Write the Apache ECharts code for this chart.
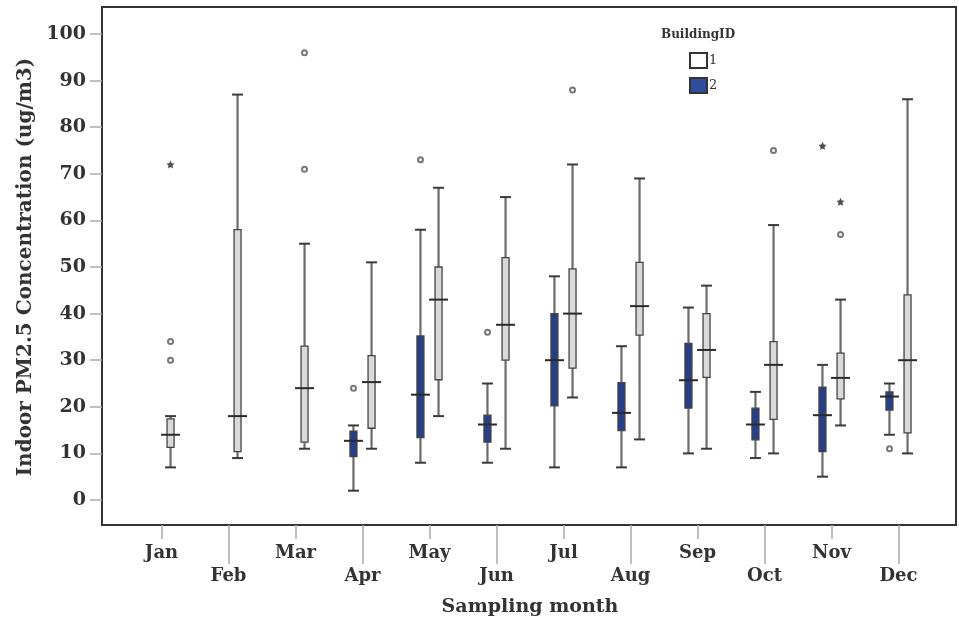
<!DOCTYPE html>
<html>
<head>
<meta charset="utf-8">
<script src="https://cdn.jsdelivr.net/npm/echarts@6/dist/echarts.min.js"></script>
<style>
html,body{margin:0;padding:0;background:#fff;}
#chart{width:959px;height:622px;}
</style>
</head>
<body>
<div id="chart"></div>
<script>
const months = ['Jan','Feb','Mar','Apr','May','Jun','Jul','Aug','Sep','Oct','Nov','Dec'];
// [min, q1, median, q3, max]
const building1 = [
  [7, 11.3, 14, 17.4, 18],
  [9, 10.4, 18, 58, 87],
  [11, 12.4, 24, 33, 55],
  [11, 15.4, 25.3, 31, 51],
  [18, 25.8, 43, 50, 67],
  [11, 30, 37.6, 52, 65],
  [22, 28.3, 40, 49.6, 72],
  [13, 35.4, 41.6, 51, 69],
  [11, 26.3, 32.2, 40, 46],
  [10, 17.3, 29, 34, 59],
  [16, 21.7, 26.2, 31.5, 43],
  [10, 14.4, 30, 44, 86]
];
const building2 = [
  null, null, null,
  [2, 9.3, 12.7, 14.8, 16],
  [8, 13.4, 22.6, 35.2, 58],
  [8, 12.4, 16.2, 18.2, 25],
  [7, 20.2, 30, 40, 48],
  [7, 14.9, 18.7, 25.2, 33],
  [10, 19.7, 25.7, 33.6, 41.3],
  [9, 12.9, 16.2, 19.7, 23.2],
  [5, 10.4, 18.2, 24.2, 29],
  [14, 19.3, 22.2, 23.2, 25]
];
const outliers1 = [['Jan',34],['Jan',30],['Mar',96],['Mar',71],['Jul',88],['Oct',75],['Nov',57]];
const extremes1 = [['Jan',72],['Nov',64]];
const outliers2 = [['Apr',24],['May',73],['Jun',36],['Dec',11]];
const extremes2 = [['Nov',76]];
const seriesNames = ['1','2'];
const legendTitle = 'BuildingID';
const yName = 'Indoor PM2.5 Concentration (ug/m3)';
const xName = 'Sampling month';

const FONT = 'DejaVu Serif';
const OFF = 0.135;
const starPath = 'path://M0,-10 L2.9,-4 9.5,-3.1 4.7,1.5 5.9,8.1 0,5 -5.9,8.1 -4.7,1.5 -9.5,-3.1 -2.9,-4 Z';

function boxData(arr){
  const out = [];
  arr.forEach((v,i)=>{ if(v) out.push([i].concat(v)); });
  return out;
}
function ptData(arr){
  return arr.map(d=>[months.indexOf(d[0]), d[1]]);
}
function makeRender(sign, fill){
  return function(params, api){
    const x = api.value(0);
    const band = api.size([1,0])[0];
    const off = sign*band*OFF;
    const pMin = api.coord([x, api.value(1)]);
    const pQ1 = api.coord([x, api.value(2)]);
    const pMed = api.coord([x, api.value(3)]);
    const pQ3 = api.coord([x, api.value(4)]);
    const pMax = api.coord([x, api.value(5)]);
    const cx = pMin[0] + off;
    const bw = 7, cap = 5.5, med = 9.5;
    const wStyle = {stroke:'#6b6b6b', lineWidth:2.2};
    const cStyle = {stroke:'#3a3a3a', lineWidth:2};
    return {type:'group', children:[
      {type:'line', shape:{x1:cx,y1:pMax[1],x2:cx,y2:pQ3[1]}, style:wStyle},
      {type:'line', shape:{x1:cx,y1:pQ1[1],x2:cx,y2:pMin[1]}, style:wStyle},
      {type:'line', shape:{x1:cx-cap,y1:pMax[1],x2:cx+cap,y2:pMax[1]}, style:cStyle},
      {type:'line', shape:{x1:cx-cap,y1:pMin[1],x2:cx+cap,y2:pMin[1]}, style:cStyle},
      {type:'rect', shape:{x:cx-bw/2,y:pQ3[1],width:bw,height:pQ1[1]-pQ3[1]}, style:{fill:fill, stroke:'#444', lineWidth:1.3}},
      {type:'line', shape:{x1:cx-med,y1:pMed[1],x2:cx+med,y2:pMed[1]}, style:{stroke:'#2a2a2a', lineWidth:2}}
    ]};
  };
}

const chart = echarts.init(document.getElementById('chart'));
const labelStyle = {fontFamily:FONT, fontWeight:'bold', fontSize:18, color:'#333'};
chart.setOption({
  animation:false,
  title:{text:legendTitle, left:656, top:24, textStyle:{fontFamily:FONT, fontWeight:'bold', fontSize:12, color:'#333'}},
  legend:{
    data:seriesNames, orient:'vertical', left:684, top:47, itemWidth:17, itemHeight:15, itemGap:8,
    icon:'rect',
    textStyle:{fontFamily:FONT, fontSize:13, color:'#333', padding:[0,0,0,-3]}
  },
  grid:[
    {left:102, top:7, right:3, bottom:97, show:true, borderColor:'#333', borderWidth:2, backgroundColor:'transparent', containLabel:false, outerBoundsMode:'none'},
    {left:128, top:34, right:27, bottom:122, containLabel:false, outerBoundsMode:'none'}
  ],
  xAxis:[
    {gridIndex:0, type:'value', show:false},
    {gridIndex:1, type:'category', data:months, offset:25, position:'bottom',
      axisLine:{show:false},
      axisTick:{show:false},
      axisLabel:Object.assign({interval:(i)=>i%2===0, margin:19}, labelStyle),
      name:xName, nameLocation:'middle', nameGap:73,
      nameTextStyle:{fontFamily:FONT, fontWeight:'bold', fontSize:19, color:'#333'}
    },
    {gridIndex:1, type:'category', data:months, offset:25, position:'bottom',
      axisLine:{show:false},
      axisTick:{show:true, alignWithLabel:true, length:39, interval:(i)=>i%2===1, lineStyle:{color:'#aaa', width:1.5}},
      axisLabel:Object.assign({interval:(i)=>i%2===1, margin:42}, labelStyle)
    },
    {gridIndex:1, type:'category', data:months, offset:25, position:'bottom',
      axisLine:{show:false},
      axisTick:{show:true, alignWithLabel:true, length:14, interval:(i)=>i%2===0, lineStyle:{color:'#aaa', width:1.5}},
      axisLabel:{show:false}
    }
  ],
  yAxis:[
    {gridIndex:0, type:'value', show:false},
    {gridIndex:1, type:'value', min:0, max:100, interval:10, offset:26, position:'left',
      axisLine:{show:false},
      axisTick:{show:true, length:12, lineStyle:{color:'#aaa', width:1.5}},
      axisLabel:Object.assign({margin:16}, labelStyle, {fontSize:19}),
      splitLine:{show:false},
      name:yName, nameLocation:'middle', nameGap:58,
      nameTextStyle:{fontFamily:FONT, fontWeight:'bold', fontSize:20, color:'#333'}
    }
  ],
  series:[
    {name:seriesNames[0], type:'custom', xAxisIndex:1, yAxisIndex:1,
      itemStyle:{color:'#ffffff', borderColor:'#333', borderWidth:1.2},
      renderItem:makeRender(1,'#d9d9d9'), data:boxData(building1), encode:{x:0, y:[1,2,3,4,5]}, z:3},
    {name:seriesNames[1], type:'custom', xAxisIndex:1, yAxisIndex:1,
      itemStyle:{color:'#2f4f9e', borderColor:'#333', borderWidth:1.2},
      renderItem:makeRender(-1,'#263f87'), data:boxData(building2), encode:{x:0, y:[1,2,3,4,5]}, z:3},
    {type:'scatter', xAxisIndex:1, yAxisIndex:1, data:ptData(outliers1), symbol:'emptyCircle', symbolSize:5,
      symbolOffset:[9,0], itemStyle:{color:'#555', borderColor:'#555', borderWidth:1.5}, z:4},
    {type:'scatter', xAxisIndex:1, yAxisIndex:1, data:ptData(outliers2), symbol:'emptyCircle', symbolSize:5,
      symbolOffset:[-9,0], itemStyle:{color:'#555', borderColor:'#555', borderWidth:1.5}, z:4},
    {type:'scatter', xAxisIndex:1, yAxisIndex:1, data:ptData(extremes1), symbol:starPath, symbolSize:8,
      symbolOffset:[9,0], itemStyle:{color:'#222'}, z:4},
    {type:'scatter', xAxisIndex:1, yAxisIndex:1, data:ptData(extremes2), symbol:starPath, symbolSize:8,
      symbolOffset:[-9,0], itemStyle:{color:'#222'}, z:4}
  ]
});
</script>
</body>
</html>
